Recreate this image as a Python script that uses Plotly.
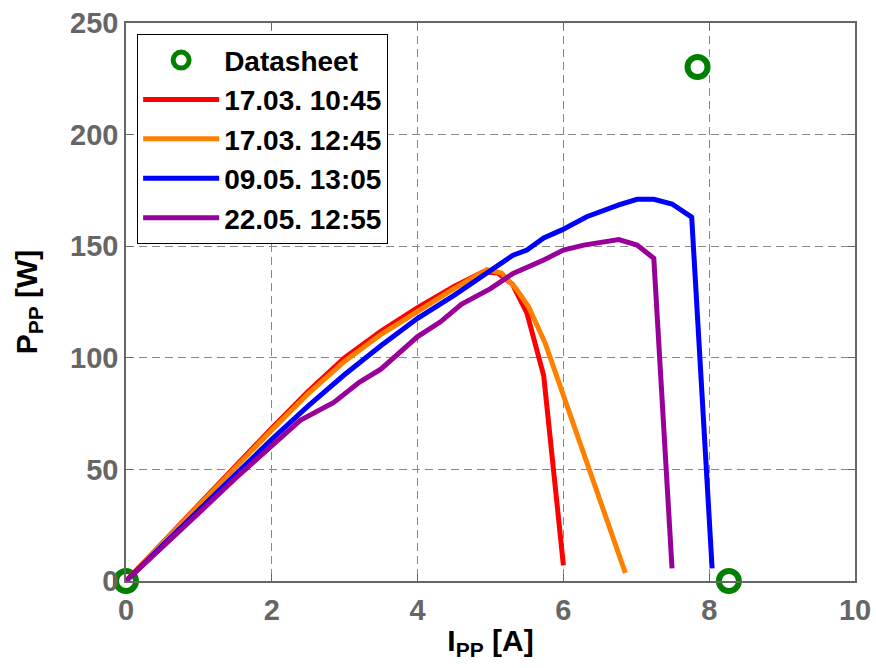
import plotly.graph_objects as go

# Datasheet points
ds_I = [0.0, 7.84, 8.27]
ds_P = [0.0, 230.3, 0.0]

# 17.03. 10:45
r_I = [0, 0.5, 1.0, 1.5, 2.0, 2.5, 3.0, 3.5, 4.0, 4.5, 4.9, 5.1, 5.3, 5.5, 5.73, 6.0]
r_P = [0, 17.2, 34.5, 51.5, 68.5, 85, 100, 112, 122.5, 132, 138.5, 138, 133, 120, 92, 7]

# 17.03. 12:45
o_I = [0, 0.5, 1.0, 1.5, 2.0, 2.5, 3.0, 3.5, 4.0, 4.5, 4.95, 5.15, 5.35, 5.52, 5.75, 6.85]
o_P = [0, 17, 34, 51, 67.7, 84, 98.5, 110.5, 121, 131, 139.5, 138, 131, 123, 106.6, 3.6]

# 09.05. 13:05
b_I = [0, 0.5, 1.0, 1.5, 2.0, 2.5, 3.0, 3.5, 4.0, 4.5, 5.0, 5.31, 5.5, 5.73, 5.98,
       6.32, 6.76, 7.01, 7.24, 7.49, 7.76, 8.04]
b_P = [0, 16, 32, 48, 63.5, 78.5, 92.5, 105.5, 117.7, 128, 139, 146, 148.3, 153.7, 157.3,
       163.2, 168.5, 171, 171, 168.9, 163, 5.7]

# 22.05. 12:55
p_I = [0, 0.5, 1.0, 1.5, 2.0, 2.39, 2.85, 3.2, 3.5, 4.0, 4.31, 4.6, 5.0, 5.31, 5.73, 6.0,
       6.28, 6.76, 7.01, 7.24, 7.49]
p_P = [0, 15, 30.5, 46, 61, 72, 80, 89, 95, 109.5, 116, 124, 131, 137.8, 143.8, 148.3,
       150.5, 153, 150.5, 144.6, 5.7]

x_ticks = [0, 2, 4, 6, 8, 10]
y_ticks = [0, 50, 100, 150, 200, 250]

FONT = "Liberation Sans, Arial, Helvetica, sans-serif"

fig = go.Figure()
fig.add_trace(go.Scatter(x=ds_I, y=ds_P, mode="markers", name="Datasheet",
                         cliponaxis=False,
                         marker=dict(symbol="circle-open", size=20, color="#008000",
                                     line=dict(width=6, color="#008000"))))
for xs, ys, nm, col in [(r_I, r_P, "17.03. 10:45", "#ff0000"),
                        (o_I, o_P, "17.03. 12:45", "#ff8000"),
                        (b_I, b_P, "09.05. 13:05", "#0000ff"),
                        (p_I, p_P, "22.05. 12:55", "#990099")]:
    fig.add_trace(go.Scatter(x=xs, y=ys, mode="lines", name=nm,
                             line=dict(color=col, width=5)))

axis_common = dict(
    showline=True, linecolor="#666666", linewidth=1.5, mirror="ticks",
    ticks="inside", ticklen=7, tickcolor="#666666", tickwidth=1,
    showgrid=True, gridcolor="#888888", gridwidth=1.2, griddash="8px,5px",
    zeroline=False, automargin=False,
    tickfont=dict(family=FONT, size=29, color="#666666", weight="bold"),
)

fig.update_xaxes(range=[0, 10], tickvals=x_ticks, ticktext=[str(v) for v in x_ticks],
                 ticklabelstandoff=2,
                 title=dict(text="I<sub>PP</sub> [A]", standoff=5,
                            font=dict(family=FONT, size=30, color="black", weight="bold")),
                 **axis_common)
fig.update_yaxes(range=[0, 250], tickvals=y_ticks, ticktext=[str(v) for v in y_ticks],
                 title=dict(text="P<sub>PP</sub> [W]", standoff=24,
                            font=dict(family=FONT, size=30, color="black", weight="bold")),
                 **axis_common)

fig.update_layout(
    width=876, height=668,
    margin=dict(l=126, r=21, t=23, b=87),
    paper_bgcolor="white", plot_bgcolor="white",
    font=dict(family=FONT),
    showlegend=True,
    legend=dict(x=0.015, y=0.98, xanchor="left", yanchor="top",
                bgcolor="white", bordercolor="black", borderwidth=1.2,
                itemwidth=76, tracegroupgap=0,
                font=dict(family=FONT, size=28, color="black", weight="bold")),
)

fig.write_html("out.html")
